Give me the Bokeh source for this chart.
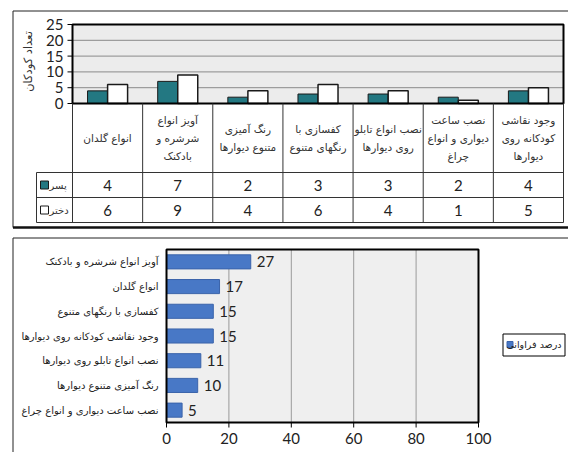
import math
from bokeh.plotting import figure
from bokeh.layouts import column
from bokeh.models import Range1d, ColumnDataSource
from bokeh.transform import dodge
from bokeh.core.properties import value
from bokeh.embed import file_html
from bokeh.resources import INLINE

# ---------------- data ----------------
categories = ["انواع گلدان",
              "آویز انواع\nشرشره و\nبادکنک",
              "رنگ آمیزی\nمتنوع دیوارها",
              "کفسازی با\nرنگهای متنوع",
              "نصب انواع تابلو\nروی دیوارها",
              "نصب ساعت\nدیواری و انواع\nچراغ",
              "وجود نقاشی\nکودکانه روی\nدیوارها"]
boys = [4, 7, 2, 3, 3, 2, 4]
girls = [6, 9, 4, 6, 4, 1, 5]
series_names = ["پسر", "دختر"]
y_title = "تعداد کودکان"
y_ticks = [0, 5, 10, 15, 20, 25]

freq_labels = ["آویز انواع شرشره و بادکنک",
               "انواع گلدان",
               "کفسازی با رنگهای متنوع",
               "وجود نقاشی کودکانه روی دیوارها",
               "نصب انواع تابلو روی دیوارها",
               "رنگ آمیزی متنوع دیوارها",
               "نصب ساعت دیواری و انواع چراغ"]
freq_values = [27, 17, 15, 15, 11, 10, 5]
freq_series = "درصد فراوانی"
x_ticks = [0, 20, 40, 60, 80, 100]

TEAL = "#237882"
BLUE = "#4878c6"
NUM = value("Lato")
FA = value("DejaVu Sans")
LINE = "#333333"
W = 568

# =============== top panel (chart + data table) ===============
H_TOP = 232
n = len(categories)
ymax = y_ticks[-1]
PX_L, PX_R, PY_T, PY_B = 72, 563, 24, 103      # plot area in pixels
ppx = (PX_R - PX_L) / n
ppy = (PY_B - PY_T) / ymax
ROW = 25                                         # table row height (px)
ROW0 = 222                                       # bottom of table (px)


def tx(px):
    return (px - PX_L) / ppx


def ty(py):
    return (PY_B - py) / ppy


def tr(py):
    return (ROW0 - py) / ROW


top = figure(width=W, height=H_TOP, x_range=Range1d(tx(0), tx(W)),
             y_range=Range1d(ty(H_TOP), ty(0)), toolbar_location=None,
             output_backend="svg", x_axis_location=None, y_axis_location=None,
             min_border=0, outline_line_color=None,
             background_fill_color="white", border_fill_color="white")
top.extra_y_ranges = {"rows": Range1d(tr(H_TOP), tr(0))}
top.grid.visible = False

xs = [i + 0.5 for i in range(n)]
src = ColumnDataSource(dict(x=xs, boys=boys, girls=girls,
                            boys_t=[str(v) for v in boys],
                            girls_t=[str(v) for v in girls], cat=categories))

# plot area
top.quad(left=[0], right=[n], bottom=[0], top=[ymax], fill_color="#ececec", line_color=None)
grid_y = y_ticks[1:-1]
top.segment(x0=[0] * len(grid_y), y0=grid_y, x1=[n] * len(grid_y), y1=grid_y,
            line_color="#8a8a8a", line_width=1)
top.vbar(x=dodge("x", -0.143), top="boys", width=0.285, source=src,
         fill_color=TEAL, line_color="#1a1a1a", line_width=1)
top.vbar(x=dodge("x", 0.143), top="girls", width=0.285, source=src,
         fill_color="white", line_color="#1a1a1a", line_width=1.5)
top.quad(left=[0], right=[n], bottom=[0], top=[ymax], fill_color=None,
         line_color="black", line_width=2)
# y axis ticks, labels, title
top.segment(x0=[tx(PX_L - 5)] * len(y_ticks), y0=y_ticks, x1=[0] * len(y_ticks), y1=y_ticks,
            line_color="black", line_width=1)
top.text(x=[0] * len(y_ticks), y=y_ticks, text=[str(t) for t in y_ticks], x_offset=-9,
         text_align="right", text_baseline="middle", text_font=NUM,
         text_font_size="15px", text_color="#222222")
top.text(x=[tx(27)], y=[ty(61)], text=[y_title], angle=math.pi / 2, text_align="center",
         text_baseline="middle", text_font=FA, text_font_size="11.5px", text_color="#333333")

# data table
x_leg = tx(36)
head_top = tr(PY_B)
hy = [0, 1, 2]
top.segment(x0=[x_leg] * 3, y0=hy, x1=[n] * 3, y1=hy, line_color=LINE, line_width=1,
            y_range_name="rows")
vx = list(range(n + 1))
top.segment(x0=vx, y0=[0] * len(vx), x1=vx, y1=[head_top] * len(vx), line_color=LINE,
            line_width=1, y_range_name="rows")
top.segment(x0=[x_leg], y0=[0], x1=[x_leg], y1=[2], line_color=LINE, line_width=1,
            y_range_name="rows")
top.text(x="x", y=(2 + head_top) / 2, text="cat", source=src, text_align="center",
         text_baseline="middle", text_font=FA, text_font_size="10.5px",
         text_line_height=1.5, text_color="#333333", y_range_name="rows")
top.text(x="x", y=1.5, text="boys_t", source=src, text_align="center", text_baseline="middle",
         text_font=NUM, text_font_size="15px", text_color="#222222", y_range_name="rows")
top.text(x="x", y=0.5, text="girls_t", source=src, text_align="center", text_baseline="middle",
         text_font=NUM, text_font_size="15px", text_color="#222222", y_range_name="rows")
top.scatter(x=[tx(44)] * 2, y=[1.5, 0.5], marker="square", size=8,
            fill_color=[TEAL, "white"], line_color="#1a1a1a", line_width=1, y_range_name="rows")
top.text(x=[tx(49)] * 2, y=[1.5, 0.5], text=series_names, text_align="left",
         text_baseline="middle", text_font=FA, text_font_size="10px", text_color="#333333",
         y_range_name="rows")

# panel frame (left, top, thick bottom)
bl, br, bt, bb = tx(12.5), tx(W), tr(10.5), tr(227)
top.segment(x0=[bl, bl], y0=[bb, bt], x1=[bl, br], y1=[bt, bt],
            line_color="#222222", line_width=1, y_range_name="rows")
top.segment(x0=[bl], y0=[bb], x1=[br], y1=[bb], line_color="#111111", line_width=2.5,
            y_range_name="rows")

# =============== bottom panel (horizontal bars) ===============
H_BOT = 220
m = len(freq_labels)
QX_L, QX_R, QY_T, QY_B = 166, 478, 17, 190      # plot area in pixels (within canvas)
qpx = (QX_R - QX_L) / x_ticks[-1]
qpy = (QY_B - QY_T) / m


def bx(px):
    return (px - QX_L) / qpx


def by(py):
    return (QY_B - py) / qpy


bot = figure(width=W, height=H_BOT, x_range=Range1d(bx(0), bx(W)),
             y_range=Range1d(by(H_BOT), by(0)), toolbar_location=None,
             output_backend="svg", x_axis_location=None, y_axis_location=None,
             min_border=0, outline_line_color=None,
             background_fill_color="white", border_fill_color="white")
bot.grid.visible = False

ypos = [m - 0.5 - i for i in range(m)]
fsrc = ColumnDataSource(dict(y=ypos, v=freq_values, lab=freq_labels,
                             t=[str(v) for v in freq_values]))
xmax = x_ticks[-1]
bot.quad(left=[0], right=[xmax], bottom=[0], top=[m], fill_color="#efefef", line_color=None)
gx = x_ticks[1:-1]
bot.segment(x0=gx, y0=[0] * len(gx), x1=gx, y1=[m] * len(gx), line_color="#9a9a9a", line_width=1)
bot.hbar(y="y", right="v", height=0.57, source=fsrc, fill_color=BLUE, line_color="#3a63aa")
bot.text(x="v", y="y", text="t", source=fsrc, x_offset=6, text_baseline="middle",
         text_font=NUM, text_font_size="15px", text_color="#222222")
bot.quad(left=[0], right=[xmax], bottom=[0], top=[m], fill_color=None, line_color="black",
         line_width=2)
bot.segment(x0=x_ticks, y0=[0] * len(x_ticks), x1=x_ticks, y1=[by(QY_B + 5)] * len(x_ticks),
            line_color="black", line_width=1)
bot.text(x=x_ticks, y=[0] * len(x_ticks), text=[str(t) for t in x_ticks], y_offset=10,
         text_align="center", text_baseline="top", text_font=NUM, text_font_size="15px",
         text_color="#222222")
bot.text(x=0, y="y", text="lab", source=fsrc, x_offset=-8, text_align="right",
         text_baseline="middle", text_font=FA, text_font_size="10px", text_color="#222222")

# panel frame (left, top)
cl, cr, ct, cb = bx(12.5), bx(W), by(5.5), by(H_BOT)
bot.segment(x0=[cl, cl], y0=[cb, ct], x1=[cl, cr], y1=[ct, ct],
            line_color="#222222", line_width=1)

# legend box (square then label, as in the reference)
lg_l, lg_r, lg_t, lg_b = bx(502.5), bx(564.5), by(101.5), by(123.5)
lg_y = by(112)
bot.quad(left=[lg_l], right=[lg_r], top=[lg_t], bottom=[lg_b], fill_color="white",
         line_color="black", line_width=1)
bot.scatter(x=[bx(509.5)], y=[lg_y], marker="square", size=6, fill_color=BLUE,
            line_color="#3a63aa")
bot.text(x=[bx(561)], y=[lg_y], text=[freq_series], text_align="right",
         text_baseline="middle", text_font=FA, text_font_size="9.5px", text_color="#222222")

root = column(top, bot, spacing=0)
open("out.html", "w").write(file_html(root, INLINE))
